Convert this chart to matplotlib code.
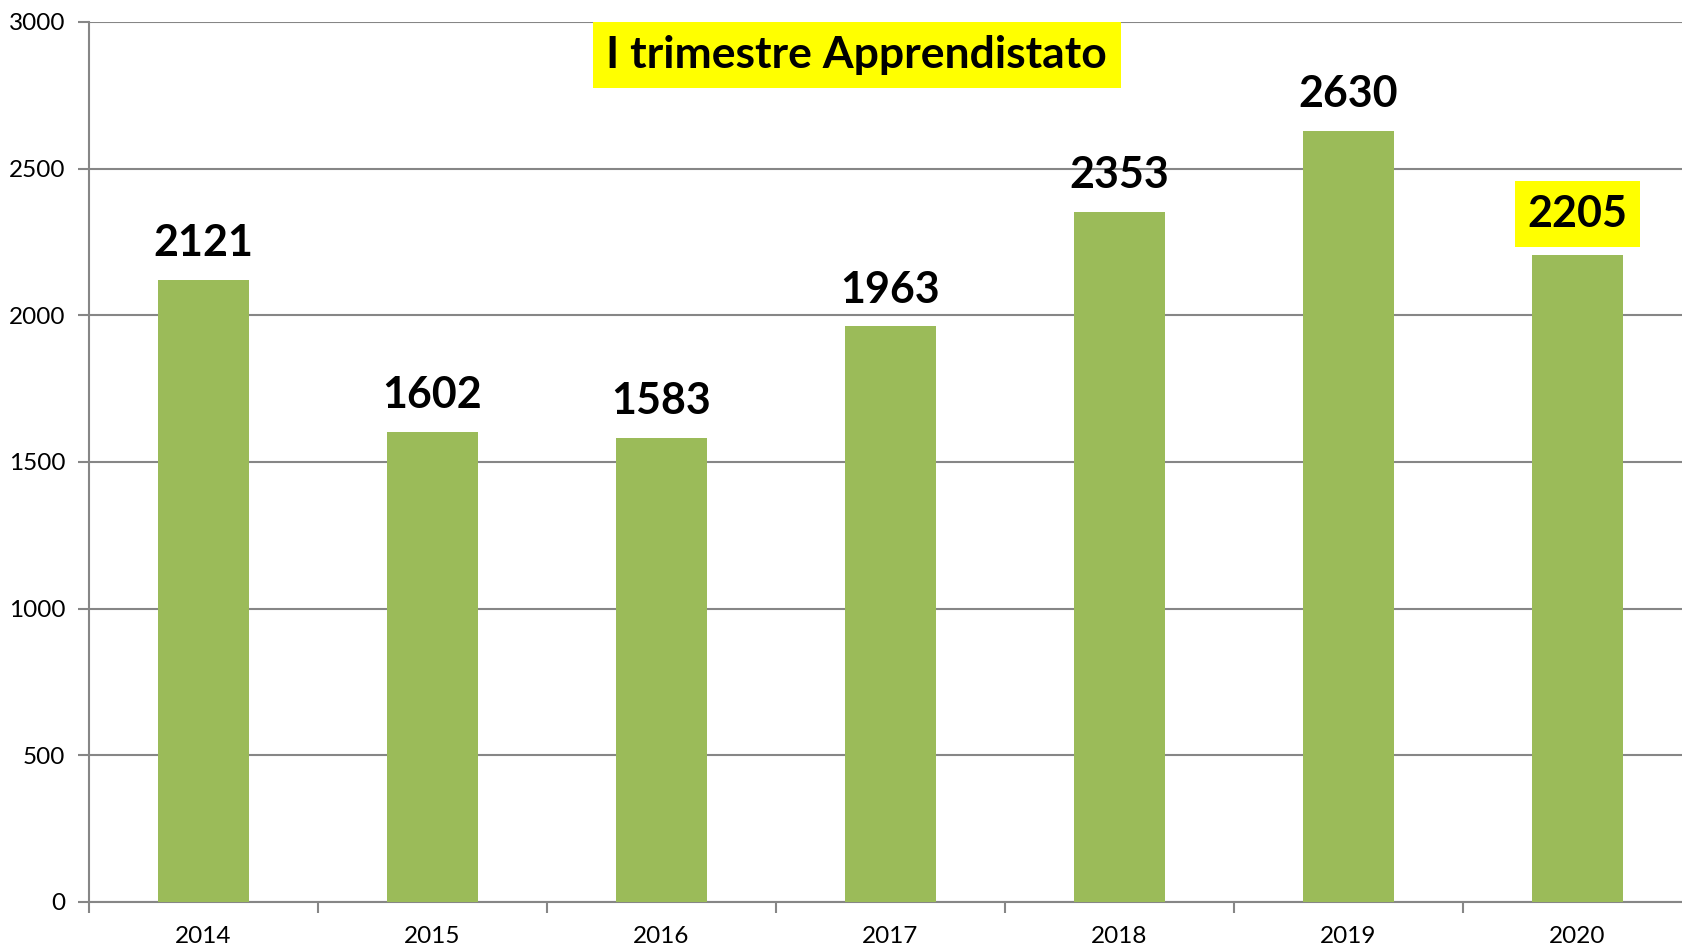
import numpy as np
import matplotlib.pyplot as plt

# Chart data
years = ["2014", "2015", "2016", "2017", "2018", "2019", "2020"]
values = [2121, 1602, 1583, 1963, 2353, 2630, 2205]
title = "I trimestre Apprendistato"

bar_color = "#9BBB59"
grid_color = "#868686"

plt.rcParams["font.family"] = ["Lato", "DejaVu Sans"]

fig = plt.figure(figsize=(16.82, 9.49), dpi=100)
# axes frame: left edge ~89px, top ~22px, bottom ~902px, runs a little past the right edge
ax = fig.add_axes([89 / 1682, 47 / 949, 7 * 229 / 1682, 880 / 949])

x = np.arange(len(years))
bars = ax.bar(x, values, width=0.4, color=bar_color, zorder=3)

# Axis limits and gridlines
ax.set_xlim(-0.5, len(years) - 0.5)
ax.set_ylim(0, 3000)
ax.set_yticks(np.arange(0, 3001, 500))
ax.yaxis.grid(True, color=grid_color, linewidth=1.5, zorder=0)
ax.tick_params(axis="y", length=8, width=1.5, color=grid_color,
               labelsize=17.5, pad=9)

# Category labels centred, tick marks on category boundaries
ax.set_xticks(x)
ax.set_xticklabels(years)
ax.set_xticks(np.arange(-0.5, len(years), 1), minor=True)
ax.tick_params(axis="x", which="major", length=0, labelsize=17.5, pad=17)
ax.tick_params(axis="x", which="minor", length=8, width=1.5, color=grid_color)

for side in ["top", "right"]:
    ax.spines[side].set_visible(False)
for side in ["left", "bottom"]:
    ax.spines[side].set_color(grid_color)
    ax.spines[side].set_linewidth(1.5)

# Value labels above bars, last one highlighted in yellow
for i, v in enumerate(values):
    if i == len(values) - 1:
        ax.annotate(str(v), (x[i], v), xytext=(0, 15), textcoords="offset points",
                    ha="center", va="bottom", fontsize=31, fontweight="bold",
                    bbox=dict(boxstyle="square,pad=0.3", fc="yellow", ec="none"))
    else:
        ax.annotate(str(v), (x[i], v), xytext=(0, 12), textcoords="offset points",
                    ha="center", va="bottom", fontsize=31, fontweight="bold")

# Title in yellow box
ax.text(0.479, 0.9625, title, transform=ax.transAxes, ha="center", va="center",
        fontsize=32, fontweight="bold", zorder=5,
        bbox=dict(boxstyle="square,pad=0.3", fc="yellow", ec="none"))

fig.savefig("out.png", dpi=100)
